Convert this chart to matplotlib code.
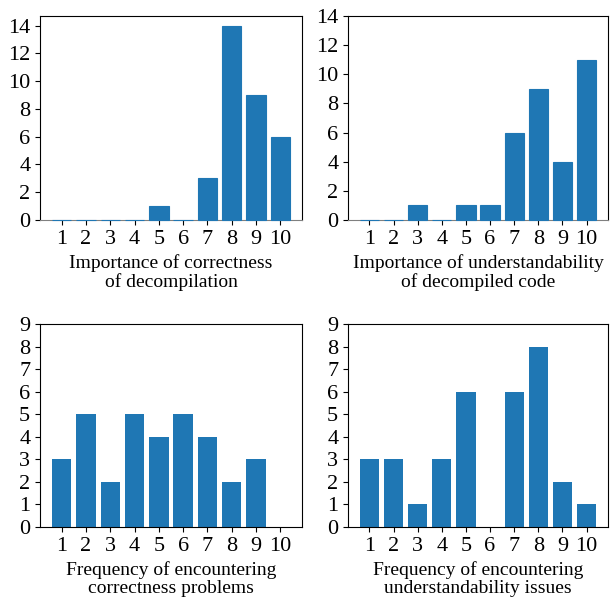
import matplotlib
matplotlib.use("Agg")
import matplotlib.pyplot as plt

plt.rcParams['font.family'] = ['Liberation Serif', 'DejaVu Serif']
plt.rcParams['font.size'] = 16

scores = [1, 2, 3, 4, 5, 6, 7, 8, 9, 10]
imp_correct = [0, 0, 0, 0, 1, 0, 3, 14, 9, 6]
imp_understand = [0, 0, 1, 0, 1, 1, 6, 9, 4, 11]
freq_correct = [3, 5, 2, 5, 4, 5, 4, 2, 3, 0]
freq_understand = [3, 3, 1, 3, 6, 0, 6, 8, 2, 1]

labels = ['Importance of correctness\nof decompilation',
          'Importance of understandability\nof decompiled code',
          'Frequency of encountering\ncorrectness problems',
          'Frequency of encountering\nunderstandability issues']

W, H = 613, 598
fig = plt.figure(figsize=(W / 100, H / 100), dpi=100)

boxes = [(40, 16, 302, 220), (348, 16, 608, 220),
         (40, 324, 302, 527), (348, 324, 608, 527)]
series = [imp_correct, imp_understand, freq_correct, freq_understand]
ylims = [None, (0, 14), (0, 9), (0, 9)]
yticks = [range(0, 15, 2), range(0, 15, 2), range(0, 10), range(0, 10)]

for i in range(4):
    x0, y0, x1, y1 = boxes[i]
    ax = fig.add_axes([x0 / W, 1 - y1 / H, (x1 - x0) / W, (y1 - y0) / H])
    if i < 2:
        # zero counts still leave a thin line on the axis
        ax.bar(scores, series[i], color='#1f77b4', edgecolor='#1f77b4',
               linewidth=0.8, zorder=3, clip_on=False)
        ax.spines['bottom'].set_color('#808080')
    else:
        ax.bar(scores, series[i], color='#1f77b4')
    if ylims[i]:
        ax.set_ylim(*ylims[i])
    ax.set_yticks(list(yticks[i]))
    ax.set_xticks(scores)
    ax.set_xlabel(labels[i], fontsize=14, linespacing=1.05)

fig.savefig('out.png', dpi=100)
